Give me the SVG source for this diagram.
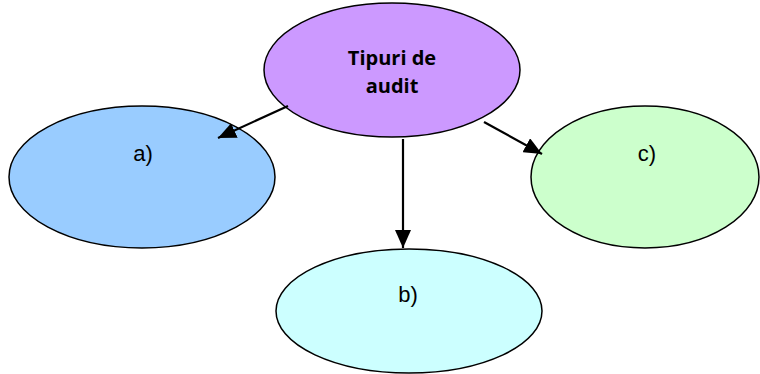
<svg xmlns="http://www.w3.org/2000/svg" width="760" height="374" viewBox="0 0 760 374">
<style>
.n{stroke:#000;stroke-width:1.5}
.lbl{font-family:"Liberation Sans",Arial,sans-serif;font-size:22px;fill:#000;text-anchor:middle}
.ttl{font-family:"Open Sans","Noto Sans",sans-serif;font-weight:bold;font-size:20px;fill:#000;text-anchor:middle}
.c{stroke:#000;stroke-width:2.2;fill:none}
</style>
<defs>
<marker id="ah" markerUnits="userSpaceOnUse" markerWidth="20" markerHeight="16" refX="18" refY="8" orient="auto">
<path d="M0,0 L18,8 L0,16 Z" fill="#000"/>
</marker>
</defs>
<rect width="760" height="374" fill="#fff"/>
<g id="node-a"><ellipse class="n" cx="142" cy="177" rx="133" ry="71" fill="#99ccff"/><text class="lbl" x="143" y="161">a)</text></g>
<g id="node-c"><ellipse class="n" cx="645" cy="177" rx="114" ry="71" fill="#ccffcc"/><text class="lbl" x="647" y="161">c)</text></g>
<g id="node-b"><ellipse class="n" cx="409" cy="311" rx="133" ry="62" fill="#ccffff"/><text class="lbl" x="408" y="302">b)</text></g>
<g id="node-root"><ellipse class="n" cx="392" cy="70" rx="128" ry="67" fill="#cc99ff"/><text class="ttl" x="392" y="65">Tipuri de</text><text class="ttl" x="392" y="93">audit</text></g>
<g id="connectors">
<line class="c" x1="288" y1="106" x2="218" y2="138" marker-end="url(#ah)"/>
<line class="c" x1="484" y1="122" x2="542" y2="154" marker-end="url(#ah)"/>
<line class="c" x1="403" y1="139" x2="403" y2="248" marker-end="url(#ah)"/>
</g>
</svg>
